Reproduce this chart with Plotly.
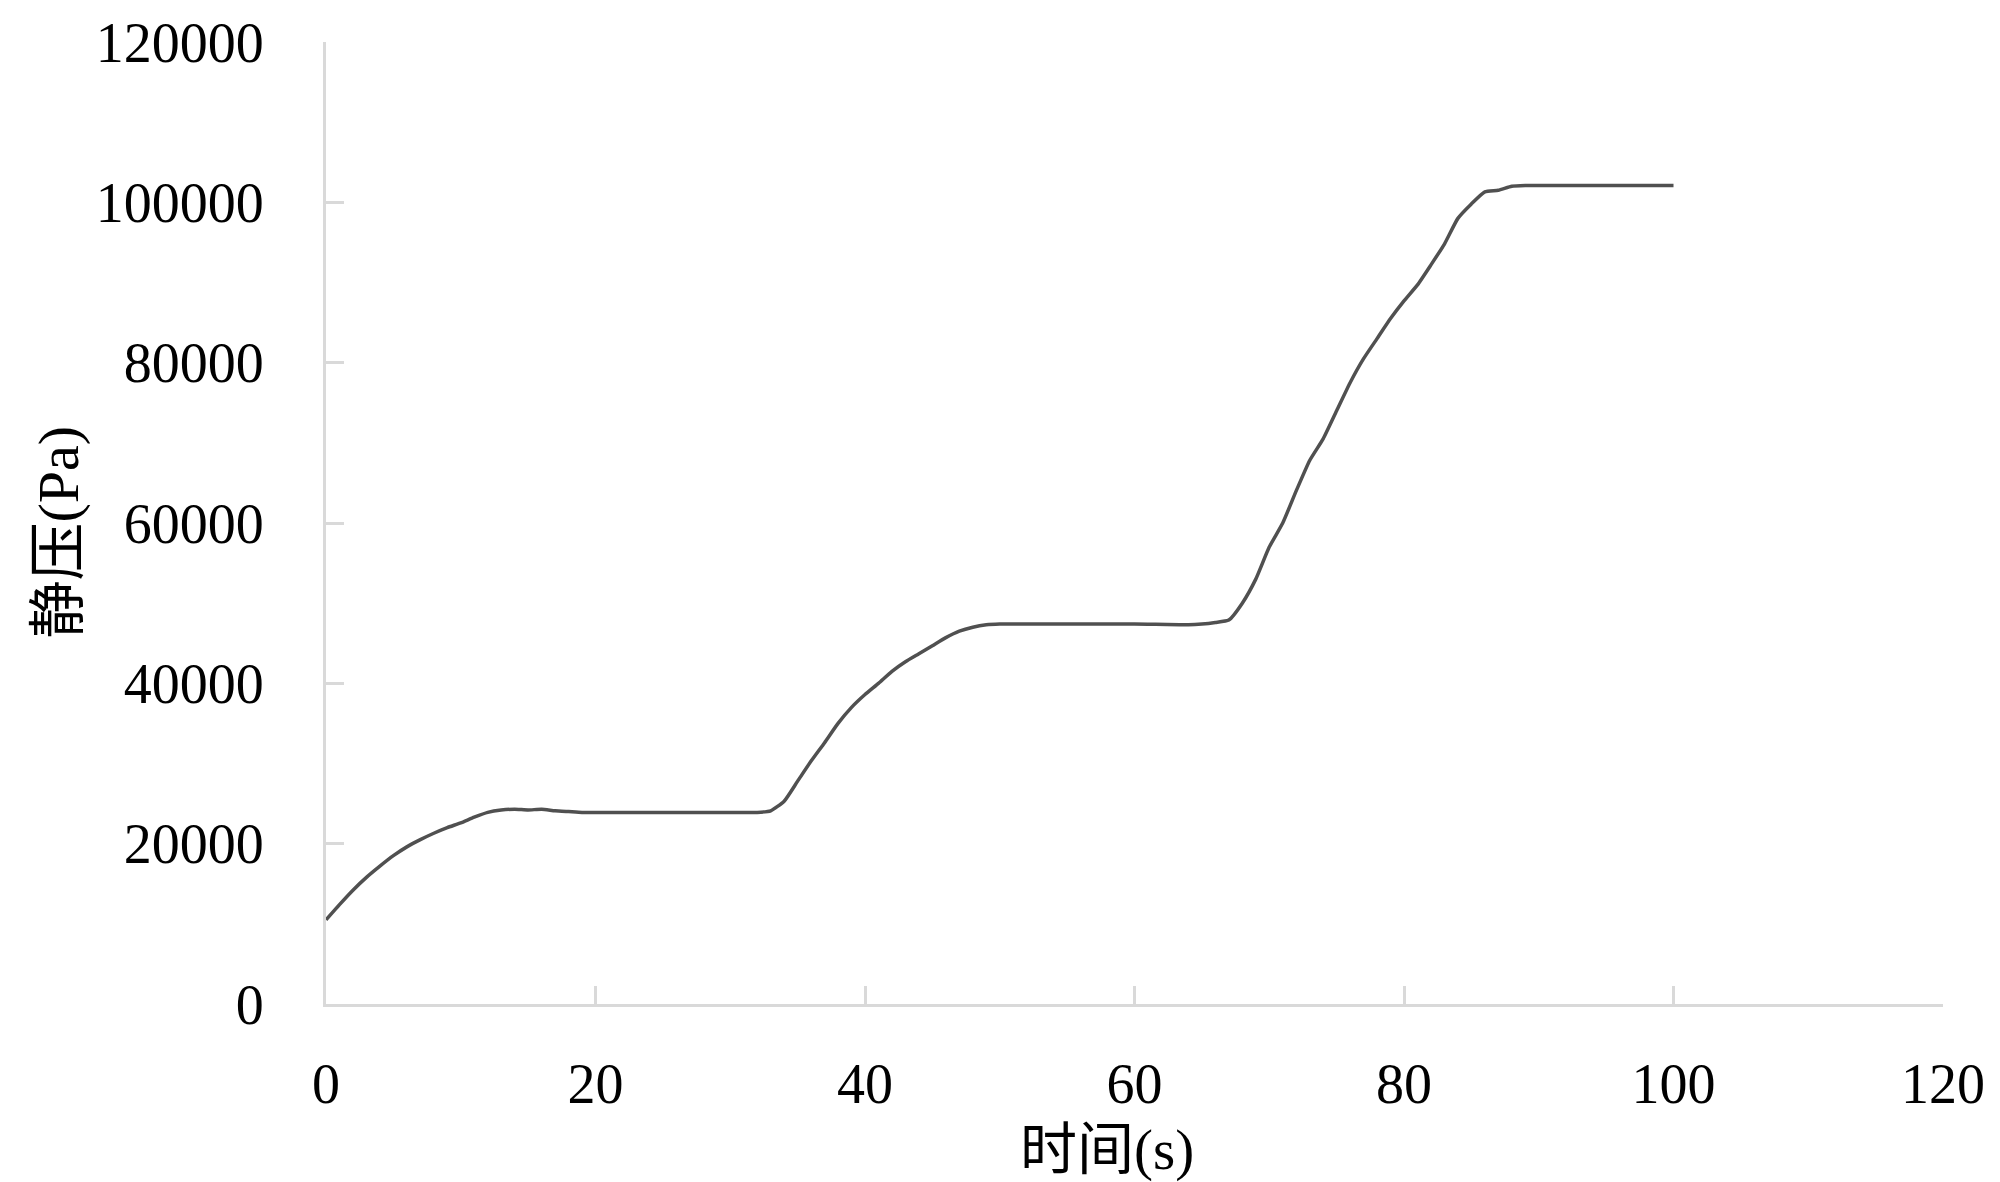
import plotly.graph_objects as go

# time (s) and static pressure (Pa)
time_s = [0, 1, 2, 3, 4, 5, 6, 7, 8, 9, 10, 11, 12, 13, 14, 15, 16, 17, 18, 19, 20,
          25, 30, 32, 33, 34, 35, 36, 37, 38, 39, 40, 41, 42, 43, 44, 45, 46, 47, 48, 49, 50,
          55, 60, 64, 65, 66, 67, 68, 69, 70, 71, 72, 73, 74, 75, 76, 77, 78, 79, 80,
          81, 82, 83, 84, 85, 86, 87, 88, 89, 90, 95, 100]
pressure_pa = [10500, 12400, 14200, 15800, 17200, 18500, 19600, 20500, 21300, 22000, 22600,
               23300, 23900, 24200, 24300, 24200, 24300, 24100, 24000, 23900, 23900,
               23900, 23900, 23900, 24100, 25300, 27800, 30300, 32600, 35000, 37000, 38600,
               40000, 41500, 42700, 43700, 44700, 45700, 46500, 47000, 47300, 47400,
               47400, 47400, 47300, 47400, 47600, 47900, 50000, 53000, 57000, 60000, 64000,
               67800, 70500, 74000, 77500, 80500, 83000, 85500, 87700,
               89700, 92200, 94800, 98000, 99800, 101300, 101500, 102000, 102100, 102100,
               102100, 102100]

x_ticks = [0, 20, 40, 60, 80, 100, 120]
y_ticks = [0, 20000, 40000, 60000, 80000, 100000, 120000]

x_title = "时间(s)"
y_title = "静压(Pa)"

font_family = "Liberation Serif, Noto Sans CJK SC, serif"
axis_color = "#d9d9d9"

fig = go.Figure()
fig.add_trace(go.Scatter(
    x=time_s, y=pressure_pa, mode="lines",
    line=dict(color="#505050", width=3.5, shape="spline", smoothing=0.5),
    showlegend=False, hoverinfo="x+y",
))

axis_common = dict(
    showgrid=False, zeroline=False, showline=True, linecolor=axis_color, linewidth=3,
    ticks="inside", ticklen=18, tickwidth=3, tickcolor=axis_color, automargin=False,
    tickfont=dict(family=font_family, size=56, color="black"),
)

fig.update_xaxes(range=[0, 120], tickvals=x_ticks, ticklabelstandoff=29, **axis_common)
fig.update_yaxes(range=[0, 120000], tickvals=y_ticks, tickformat="d",
                 ticklabelstandoff=48, **axis_common)

fig.add_annotation(text=x_title, xref="paper", yref="paper", x=0.483, y=-0.152,
                   xanchor="center", yanchor="middle", showarrow=False,
                   font=dict(family=font_family, size=57, color="black"))
fig.add_annotation(text=y_title, xref="paper", yref="paper", x=-0.166, y=0.4906,
                   xanchor="center", yanchor="middle", showarrow=False, textangle=-90,
                   font=dict(family=font_family, size=58, color="black"))

# page body has an 8px margin, so shift the plot area up/left to compensate
fig.update_layout(
    width=2000, height=1182,
    margin=dict(l=318, r=65, t=34, b=186),
    plot_bgcolor="white", paper_bgcolor="white",
)

fig.write_html("out.html")
